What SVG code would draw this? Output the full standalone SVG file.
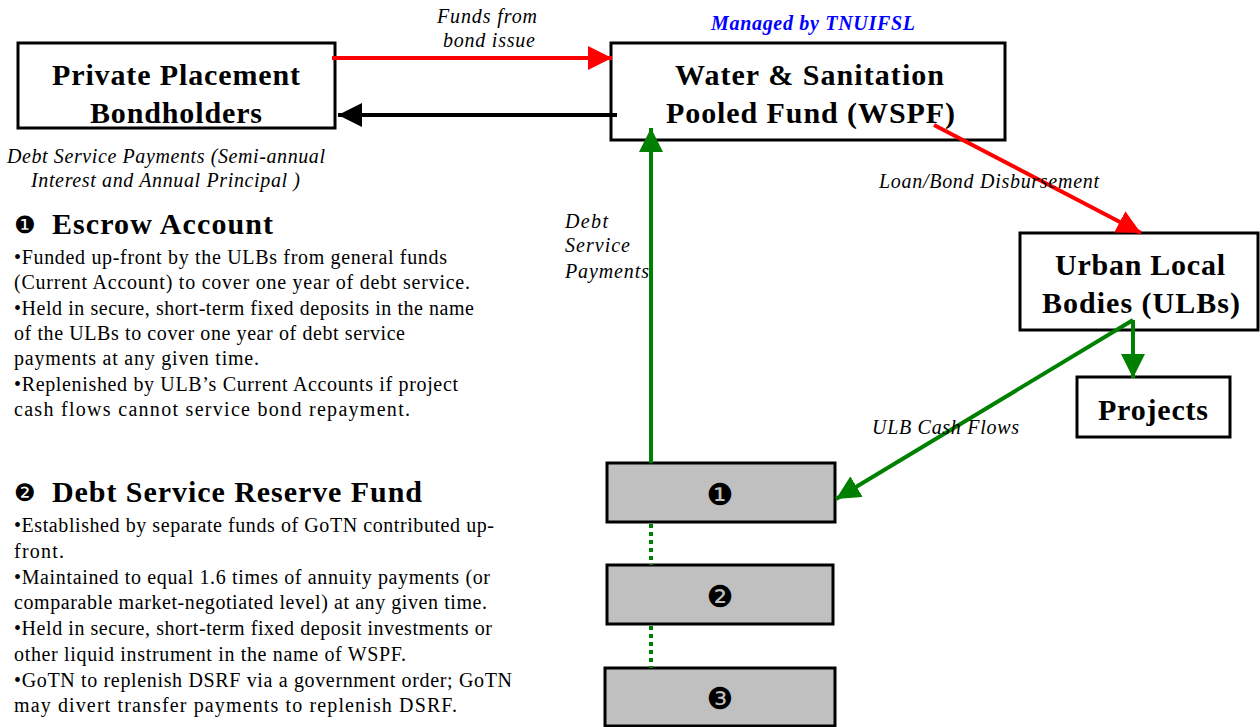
<svg xmlns="http://www.w3.org/2000/svg" width="1260" height="727" viewBox="0 0 1260 727">
<style>
.box{fill:#fff;stroke:#000;stroke-width:3}
.gbox{fill:#c0c0c0;stroke:#000;stroke-width:3}
.title{font-family:"Liberation Serif",serif;font-weight:bold;font-size:30px;fill:#000}
.lbl{font-family:"Liberation Serif",serif;font-style:italic;font-size:20px;fill:#000}
.body{font-family:"Liberation Serif",serif;font-size:20px;fill:#000}
.head{font-family:"Liberation Serif",serif;font-weight:bold;font-size:30px;fill:#000}
.hnum{font-family:"DejaVu Sans",sans-serif;font-size:24px;fill:#000}
.num{font-family:"DejaVu Sans",sans-serif;font-size:30px;text-anchor:middle;fill:#000}
.red{stroke:#ff0000;stroke-width:4;fill:none}
.blk{stroke:#000;stroke-width:4;fill:none}
.grn{stroke:#008000;stroke-width:4;fill:none}
.dot{stroke:#008000;stroke-width:4;fill:none;stroke-dasharray:4 4}
</style>
<defs>
<marker id="aR" markerUnits="userSpaceOnUse" markerWidth="26" markerHeight="24" refX="24" refY="12" orient="auto"><path d="M0,0 L24,12 L0,24 Z" fill="#ff0000"/></marker>
<marker id="aK" markerUnits="userSpaceOnUse" markerWidth="26" markerHeight="24" refX="24" refY="12" orient="auto"><path d="M0,0 L24,12 L0,24 Z" fill="#000"/></marker>
<marker id="aG" markerUnits="userSpaceOnUse" markerWidth="26" markerHeight="24" refX="24" refY="12" orient="auto"><path d="M0,0 L24,12 L0,24 Z" fill="#008000"/></marker>
</defs>

<g id="bondholders">
<rect class="box" x="18" y="43" width="317" height="85"/>
<text class="title" x="52" y="85" textLength="248">Private Placement</text>
<text class="title" x="90" y="123" textLength="172">Bondholders</text>
</g>

<g id="wspf">
<text x="711" y="30" textLength="204" font-family="Liberation Serif, serif" font-weight="bold" font-style="italic" font-size="20" fill="#0000ff">Managed by TNUIFSL</text>
<rect class="box" x="611" y="43" width="394" height="97"/>
<text class="title" x="675" y="85" textLength="269">Water &amp; Sanitation</text>
<text class="title" x="666" y="123" textLength="289">Pooled Fund (WSPF)</text>
</g>

<g id="ulbs">
<rect class="box" x="1020" y="233" width="238" height="97"/>
<text class="title" x="1055" y="275" textLength="170">Urban Local</text>
<text class="title" x="1042" y="313" textLength="198">Bodies (ULBs)</text>
</g>

<g id="projects">
<rect class="box" x="1077" y="377" width="153" height="60"/>
<text class="title" x="1098" y="420" textLength="110">Projects</text>
</g>

<g id="fund1">
<rect class="gbox" x="607" y="463" width="228" height="59"/>
<text class="num" x="720" y="505">❶</text>
</g>
<g id="fund2">
<rect class="gbox" x="607" y="565" width="226" height="59"/>
<text class="num" x="720" y="607">❷</text>
</g>
<g id="fund3">
<rect class="gbox" x="605" y="668" width="230" height="58"/>
<text class="num" x="720" y="709">❸</text>
</g>

<g id="escrow-text">
<text x="14" y="233" class="hnum">❶</text>
<text x="52" y="234" class="head" textLength="221">Escrow Account</text>
<text class="body" x="14" y="264" textLength="433">•Funded up-front by the ULBs from general funds</text>
<text class="body" x="14" y="289" textLength="456">(Current Account) to cover one year of debt service.</text>
<text class="body" x="14" y="315" textLength="460">•Held in secure, short-term fixed deposits in the name</text>
<text class="body" x="14" y="340" textLength="391">of the ULBs to cover one year of debt service</text>
<text class="body" x="14" y="365" textLength="245">payments at any given time.</text>
<text class="body" x="14" y="391" textLength="444">•Replenished by ULB’s Current Accounts if project</text>
<text class="body" x="14" y="416" textLength="396">cash flows cannot service bond repayment.</text>
</g>

<g id="dsrf-text">
<text x="14" y="501" class="hnum">❷</text>
<text x="52" y="502" class="head" textLength="370">Debt Service Reserve Fund</text>
<text class="body" x="14" y="532" textLength="480">•Established by separate funds of GoTN contributed up-</text>
<text class="body" x="14" y="558" textLength="50">front.</text>
<text class="body" x="14" y="584" textLength="476">•Maintained to equal 1.6 times of annuity payments (or</text>
<text class="body" x="14" y="609" textLength="473">comparable market-negotiated level) at any given time.</text>
<text class="body" x="14" y="635" textLength="478">•Held in secure, short-term fixed deposit investments or</text>
<text class="body" x="14" y="661" textLength="392">other liquid instrument in the name of WSPF.</text>
<text class="body" x="14" y="687" textLength="498">•GoTN to replenish DSRF via a government order; GoTN</text>
<text class="body" x="14" y="712" textLength="443">may divert transfer payments to replenish DSRF.</text>
</g>

<g id="connectors">
<line class="red" x1="332" y1="58" x2="612" y2="58" marker-end="url(#aR)"/>
<line class="blk" x1="617" y1="115" x2="338" y2="115" marker-end="url(#aK)"/>
<line class="red" x1="934" y1="125" x2="1141" y2="233" marker-end="url(#aR)"/>
<line class="grn" x1="651" y1="463" x2="651" y2="128" marker-end="url(#aG)"/>
<line class="grn" x1="1133" y1="320" x2="1133" y2="378" marker-end="url(#aG)"/>
<line class="grn" x1="1133" y1="320" x2="836" y2="499" marker-end="url(#aG)"/>
<line class="dot" x1="651" y1="524" x2="651" y2="565"/>
<line class="dot" x1="651" y1="626" x2="651" y2="668"/>
<text class="lbl" x="437" y="23" textLength="100">Funds from</text>
<text class="lbl" x="443" y="47" textLength="92">bond issue</text>
<text class="lbl" x="7" y="163" textLength="318">Debt Service Payments (Semi-annual</text>
<text class="lbl" x="31" y="187" textLength="269">Interest and Annual Principal )</text>
<text class="lbl" x="879" y="188" textLength="220">Loan/Bond Disbursement</text>
<text class="lbl" x="565" y="228" textLength="43">Debt</text>
<text class="lbl" x="565" y="252" textLength="65">Service</text>
<text class="lbl" x="565" y="278" textLength="84">Payments</text>
<text class="lbl" x="872" y="434" textLength="147">ULB Cash Flows</text>
</g>
</svg>
